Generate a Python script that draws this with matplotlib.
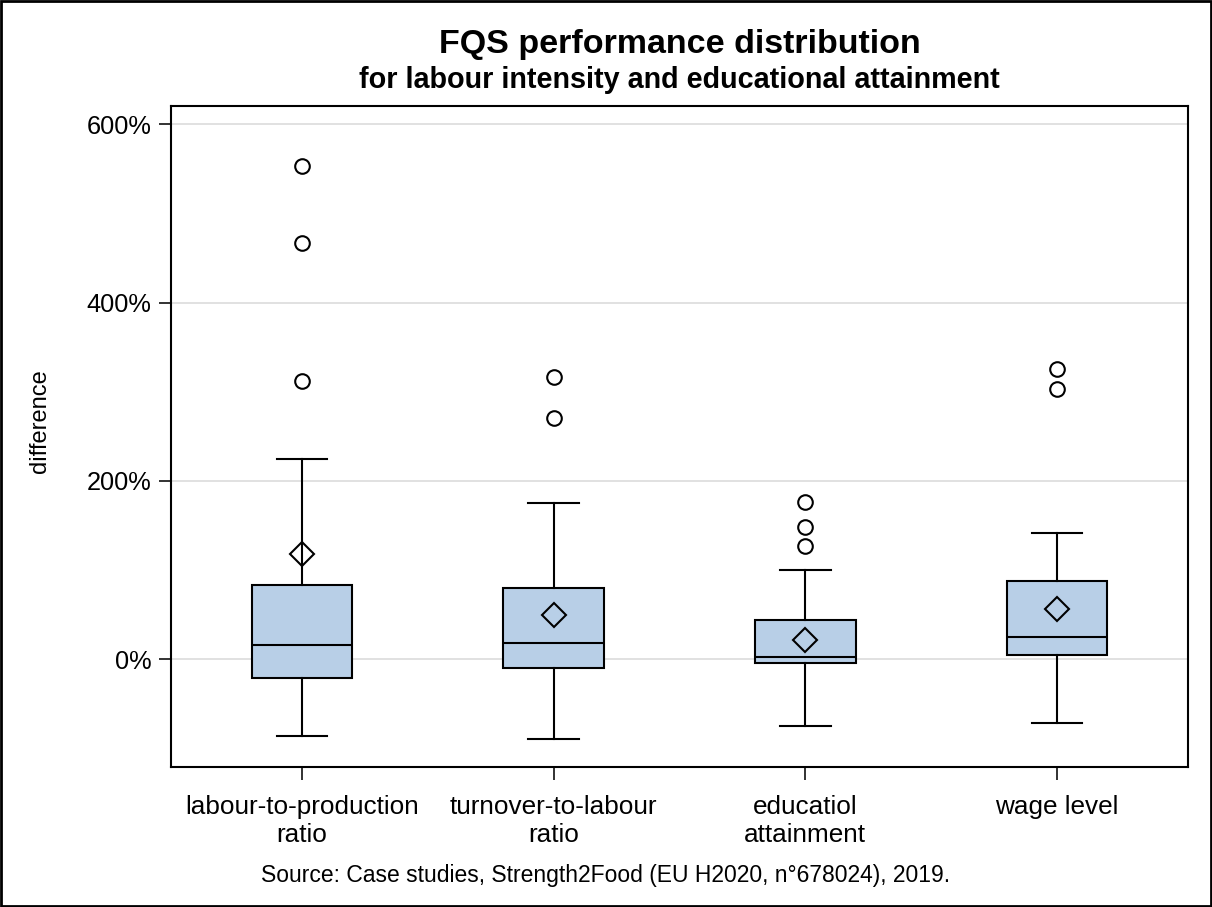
import numpy as np
import matplotlib.pyplot as plt
from matplotlib.ticker import FuncFormatter

plt.rcParams['font.family'] = ['Liberation Sans', 'DejaVu Sans']

# values in %
labels = ["labour-to-production\nratio", "turnover-to-labour\nratio",
          "educatiol\nattainment", "wage level"]
whislo = [-86, -90, -75, -72]
q1 = [-21, -10, -4.5, 4.5]
med = [16, 18, 2, 25]
q3 = [83, 80, 44, 88]
whishi = [224, 175, 100, 142]
means = [118, 49, 21, 56]
fliers = [[553, 467, 312], [316, 270], [176, 148, 127], [325, 303]]

stats = []
for i in range(len(labels)):
    stats.append(dict(whislo=whislo[i], q1=q1[i], med=med[i], q3=q3[i],
                      whishi=whishi[i], mean=means[i], fliers=fliers[i],
                      label=labels[i]))

fig = plt.figure(figsize=(12.12, 9.07), dpi=100)
ax = fig.add_axes([0.1411, 0.1543, 0.8391, 0.7288])

pos = np.arange(1, len(labels) + 1)
ax.bxp(stats, positions=pos, widths=0.4, patch_artist=True, showmeans=True,
       boxprops=dict(facecolor='#b8cfe7', edgecolor='black', linewidth=1.5),
       medianprops=dict(color='black', linewidth=1.5),
       whiskerprops=dict(color='black', linewidth=1.5),
       capprops=dict(color='black', linewidth=1.5),
       capwidths=0.2,
       meanprops=dict(marker='D', markerfacecolor='none', markeredgecolor='black',
                      markersize=12, markeredgewidth=1.5),
       flierprops=dict(marker='o', markerfacecolor='none', markeredgecolor='black',
                       markersize=10.5, markeredgewidth=1.5))

ax.set_xlim(0.48, 4.52)
ax.set_ylim(-121.2, 620.6)
ax.set_yticks([0, 200, 400, 600])
ax.yaxis.set_major_formatter(FuncFormatter(lambda v, p: f"{v:.0f}%"))
ax.grid(axis='y', color='#dcdcdc', linewidth=1.2)
ax.set_axisbelow(True)
ax.tick_params(axis='both', length=9, width=1.3, color='#222222')
ax.tick_params(axis='y', pad=5, labelsize=18.3)
ax.tick_params(axis='x', pad=11, labelsize=18.8)
for s in ax.spines.values():
    s.set_linewidth(1.5)
ax.set_ylabel("difference", fontsize=17)
ax.yaxis.set_label_coords(-0.118, 0.523)

# titles are centred over the plot area, the source note over the whole figure
ax.text(0.5, 1 - 53 / 907, "FQS performance distribution", transform=fig.transFigure,
        ha='center', va='baseline', fontsize=24.5, fontweight='bold')
ax.text(0.5, 1 - 88 / 907, "for labour intensity and educational attainment",
        transform=fig.transFigure, ha='center', va='baseline', fontsize=20.7,
        fontweight='bold')
for t in ax.texts:
    t.set_x(0.1411 + 0.8391 / 2)
fig.text(0.5, 1 - 882 / 907, "Source: Case studies, Strength2Food (EU H2020, n\u00b0678024), 2019.",
         ha='center', va='baseline', fontsize=16.5)

# frame around whole picture
fig.patches.append(plt.Rectangle((0.001, 0.001), 0.998, 0.998, transform=fig.transFigure,
                                 fill=False, edgecolor='black', linewidth=2))

fig.savefig("out.png", dpi=100)
